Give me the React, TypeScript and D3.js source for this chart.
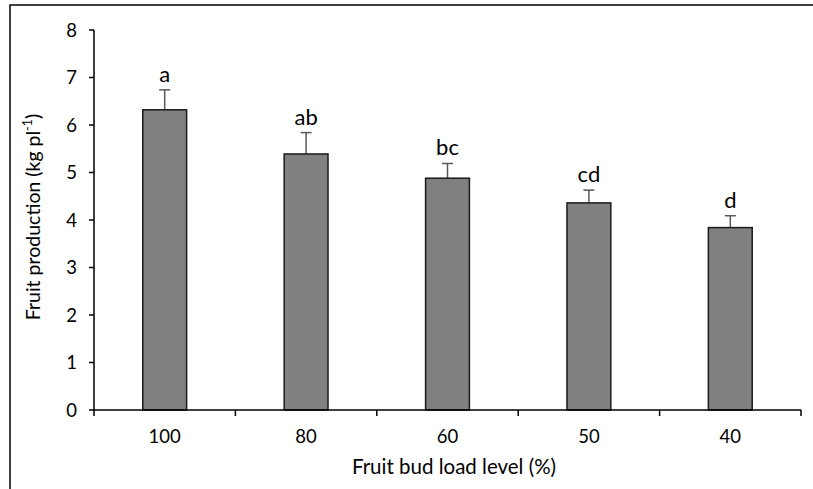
import * as d3 from "d3";
import * as React from "react";

const categories = ["100", "80", "60", "50", "40"];
const means = [6.32, 5.39, 4.88, 4.36, 3.84];
const errors = [0.42, 0.45, 0.31, 0.27, 0.25];
const letters = ["a", "ab", "bc", "cd", "d"];
const yTicks = [0, 1, 2, 3, 4, 5, 6, 7, 8];

const W = 813;
const H = 489;
const margin = { top: 30, right: 12, bottom: 79, left: 94 };
const font = "Lato, 'Open Sans', sans-serif";

const App: React.FC = () => {
  const x = d3
    .scaleBand()
    .domain(categories)
    .range([margin.left, W - margin.right])
    .paddingInner(0.69)
    .paddingOuter(0.345);
  const y = d3
    .scaleLinear()
    .domain([0, 8])
    .range([H - margin.bottom, margin.top]);

  const y0 = y(0);
  const step = x.step();
  const x0 = margin.left;
  const x1 = W - margin.right;

  return (
    <svg
      width={W}
      height={H}
      style={{ position: "absolute", left: 0, top: 0, background: "#fff" }}
      fontFamily={font}
    >
      {/* outer frame: top and left edges visible */}
      <rect x={10} y={5} width={W + 10} height={H + 10} fill="none" stroke="#000" strokeWidth={1.5} />

      {/* y axis */}
      <line x1={x0} x2={x0} y1={y(8)} y2={y0} stroke="#000" strokeWidth={1.5} />
      {yTicks.map((t) => (
        <g key={t}>
          <line x1={x0 - 5} x2={x0} y1={y(t)} y2={y(t)} stroke="#000" strokeWidth={1.5} />
          <text x={x0 - 17} y={y(t)} dy="0.36em" textAnchor="end" fontSize={18.5} fill="#000">
            {t}
          </text>
        </g>
      ))}

      {/* bars */}
      {categories.map((c, i) => {
        const bx = x(c)!;
        const cx = bx + x.bandwidth() / 2;
        const top = y(means[i]);
        const et = y(means[i] + errors[i]);
        return (
          <g key={c}>
            <line x1={cx} x2={cx} y1={top} y2={et} stroke="#595959" strokeWidth={1.5} />
            <line x1={cx - 5.5} x2={cx + 5.5} y1={et} y2={et} stroke="#595959" strokeWidth={1.5} />
            <rect
              x={bx}
              y={top}
              width={x.bandwidth()}
              height={y0 - top}
              fill="#808080"
              stroke="#1a1a1a"
              strokeWidth={1.5}
            />
            <text x={cx} y={et - 8} textAnchor="middle" fontSize={22} fill="#000">
              {letters[i]}
            </text>
            <text x={cx} y={y0 + 33} textAnchor="middle" fontSize={18.5} fill="#000">
              {c}
            </text>
          </g>
        );
      })}

      {/* x axis */}
      <line x1={x0} x2={x1} y1={y0} y2={y0} stroke="#000" strokeWidth={1.5} />
      {d3.range(categories.length + 1).map((k) => (
        <line
          key={k}
          x1={x0 + k * step}
          x2={x0 + k * step}
          y1={y0}
          y2={y0 + 6}
          stroke="#000"
          strokeWidth={1.5}
        />
      ))}

      {/* titles */}
      <text x={454} y={474} textAnchor="middle" fontSize={20.5} fill="#000">
        Fruit bud load level (%)
      </text>
      <text
        transform={`translate(40,${(y(8) + y0) / 2 - 3}) rotate(-90)`}
        textAnchor="middle"
        fontSize={19.5}
        fill="#000"
      >
        Fruit production (kg pl
        <tspan fontSize={12.5} dy={-8}>
          -1
        </tspan>
        <tspan dy={8}>)</tspan>
      </text>
    </svg>
  );
};

export default App;
